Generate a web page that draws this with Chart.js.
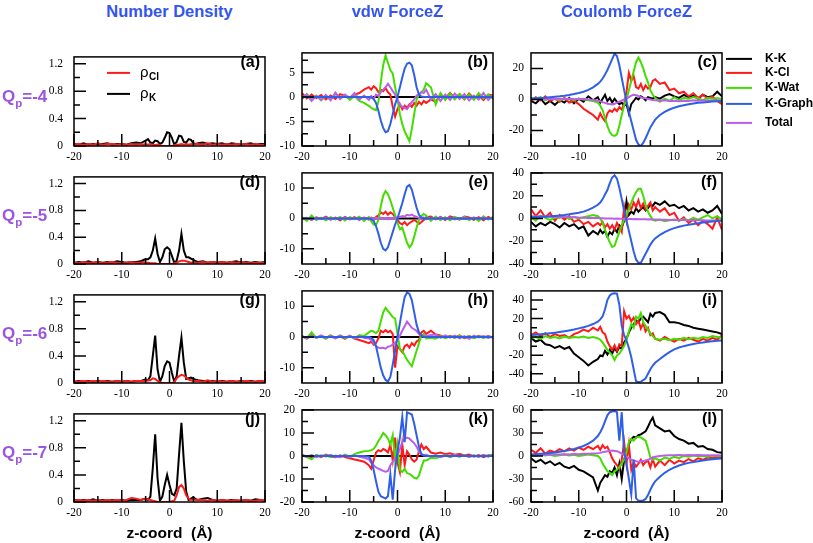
<!DOCTYPE html>
<html><head><meta charset="utf-8">
<script src="https://cdn.jsdelivr.net/npm/chart.js@4"></script>
<style>
body{margin:0;width:813px;height:543px;background:#fff;position:relative;overflow:hidden;font-family:'Liberation Sans',Arial,sans-serif;}
.abs{position:absolute;}
canvas{position:absolute;}
.title{font-weight:bold;font-size:16.5px;color:#3355ee;text-align:center;width:220px;line-height:20px;top:1px;white-space:nowrap}
.ql{font-weight:bold;font-size:17px;color:#9b55e0;left:2px;line-height:22px;white-space:nowrap}
.ql sub{font-size:11.5px;vertical-align:-5px;line-height:0}
.plab{font-weight:bold;font-size:16px;text-align:right;width:50px;line-height:18px;color:#000}
.xlab{font-weight:bold;font-size:15.5px;text-align:center;width:200px;line-height:18px;top:524px;white-space:pre}
</style></head>
<body>
<script>
// ---------------- DATA ----------------
const zCoord = [-20,-19,-18,-17,-16,-15,-14,-13,-12,-11,-10,-9,-8,-7,
 -6,-5.5,-5,-4.5,-4,-3.5,-3,-2.5,-2,-1.5,-1,-0.5,0,0.5,1,1.5,2,2.5,3,3.5,4,4.5,5,5.5,
 6,7,8,9,10,11,12,13,14,15,16,17,18,19,20];

const xMajorTicks = [-20,-10,0,10,20];
const xMinorTicks = [-15,-5,5,15];
const densTicks = [0,0.4,0.8,1.2], densMinor = [0.2,0.6,1.0];
const vdwTicksB = [-10,-5,0,5], vdwMinorB = [-7.5,-2.5,2.5,7.5];
const vdwTicksEH = [-10,0,10], vdwMinorEH = [-5,5];
const vdwTicksK = [-20,-10,0,10,20], vdwMinorK = [-15,-5,5,15];
const coulTicksC = [-20,0,20], coulMinorC = [-10,10];
const coulTicksFI = [-40,-20,0,20,40], coulMinorFI = [-30,-10,10,30];
const coulTicksL = [-60,-30,0,30,60], coulMinorL = [-45,-15,15,45];

const columnTitles = ['Number Density','vdw ForceZ','Coulomb ForceZ'];
const chargeLabels = ['-4','-5','-6','-7'];
const panelLetters = [['a','b','c'],['d','e','f'],['g','h','i'],['j','k','l']];
const densLabels = ['ρ_Cl','ρ_K'];
const forceLabels = ['K-K','K-Cl','K-Wat','K-Graph','Total'];
const xAxisTitle = 'z-coord  (Å)';

// Number density
const rhoK_a = [0.03,0.02,0.04,0.02,0.03,0.02,0.03,0.04,0.02,0.03,0.03,0.02,0.04,0.05,
 0.04,0.06,0.08,0.10,0.05,0.04,0.08,0.07,0.03,0.05,0.12,0.20,0.19,0.12,0.02,0.06,0.15,0.14,0.06,0.05,0.10,0.09,0.04,0.03,
 0.04,0.05,0.03,0.04,0.03,0.04,0.02,0.04,0.03,0.02,0.03,0.04,0.02,0.03,0.03];
const rhoCl_a = [0.02,0.03,0.02,0.03,0.02,0.04,0.02,0.03,0.03,0.02,0.03,0.02,0.03,0.02,
 0.03,0.02,0.03,0.02,0.03,0.02,0.01,0.02,0.01,0.00,0.00,0.00,0.00,0.00,0.01,0.02,0.02,0.03,0.02,0.03,0.02,0.03,0.02,0.03,
 0.03,0.02,0.04,0.02,0.03,0.02,0.03,0.02,0.03,0.02,0.03,0.02,0.03,0.02,0.02];
const rhoK_d = [0.02,0.03,0.02,0.04,0.02,0.03,0.02,0.03,0.02,0.04,0.03,0.02,0.03,0.03,
 0.04,0.06,0.07,0.07,0.10,0.20,0.38,0.15,0.03,0.10,0.22,0.25,0.22,0.12,0.02,0.05,0.20,0.45,0.20,0.10,0.10,0.08,0.06,0.04,
 0.03,0.04,0.02,0.03,0.02,0.03,0.02,0.03,0.04,0.02,0.03,0.02,0.03,0.02,0.03];
const rhoCl_d = [0.02,0.01,0.03,0.02,0.02,0.03,0.01,0.02,0.03,0.02,0.01,0.02,0.03,0.02,
 0.02,0.03,0.02,0.02,0.01,0.01,0.01,0.00,0.00,0.00,0.00,0.00,0.00,0.00,0.01,0.02,0.04,0.05,0.05,0.04,0.03,0.02,0.03,0.02,
 0.02,0.03,0.02,0.03,0.02,0.03,0.02,0.03,0.02,0.03,0.02,0.01,0.02,0.02,0.02];
const rhoK_g = [0.02,0.03,0.02,0.03,0.02,0.03,0.02,0.03,0.02,0.03,0.02,0.03,0.02,0.03,
 0.03,0.04,0.05,0.04,0.10,0.40,0.70,0.20,0.02,0.10,0.25,0.32,0.30,0.15,0.02,0.10,0.40,0.67,0.30,0.06,0.07,0.08,0.06,0.05,
 0.04,0.03,0.02,0.03,0.02,0.03,0.02,0.03,0.02,0.03,0.02,0.03,0.02,0.03,0.02];
const rhoCl_g = [0.02,0.02,0.03,0.02,0.03,0.02,0.03,0.02,0.02,0.03,0.02,0.03,0.02,0.03,
 0.03,0.03,0.03,0.04,0.04,0.07,0.06,0.03,0.01,0.00,0.00,0.00,0.00,0.00,0.01,0.07,0.10,0.12,0.11,0.08,0.05,0.04,0.03,0.03,
 0.03,0.02,0.04,0.02,0.03,0.02,0.02,0.03,0.02,0.02,0.03,0.02,0.02,0.03,0.02];
const rhoK_j = [0.03,0.02,0.03,0.02,0.04,0.02,0.03,0.02,0.03,0.02,0.03,0.02,0.03,0.03,
 0.03,0.04,0.04,0.03,0.08,0.50,1.00,0.35,0.02,0.08,0.25,0.40,0.25,0.12,0.10,0.20,0.70,1.17,0.60,0.15,0.03,0.05,0.07,0.04,
 0.03,0.05,0.06,0.03,0.02,0.03,0.02,0.03,0.02,0.02,0.03,0.02,0.04,0.03,0.02];
const rhoCl_j = [0.02,0.03,0.02,0.03,0.02,0.03,0.02,0.03,0.02,0.03,0.02,0.03,0.06,0.05,
 0.03,0.04,0.05,0.04,0.03,0.02,0.01,0.00,0.00,0.00,0.00,0.00,0.00,0.01,0.02,0.10,0.22,0.25,0.20,0.10,0.05,0.03,0.04,0.03,
 0.03,0.03,0.02,0.03,0.02,0.03,0.02,0.02,0.03,0.02,0.03,0.02,0.02,0.03,0.02];

// vdW force
const vdwKK = [0,0,0,0,0,0,0,0,0,0,0,0,0,0,
 0,0,0,0,0,0,0,0,0,0,0,0,0,0,0,0,0,0,0,0,0,0,0,0,
 0,0,0,0,0,0,0,0,0,0,0,0,0,0,0];
const vdwCl_b = [0.8,-0.3,0.5,-0.2,0.4,-0.5,0.3,-0.4,0.6,0.2,-0.3,0.5,0.8,1.5,
 2.0,1.5,2.2,1.8,1.0,1.5,1.2,1.8,1.0,0.5,-2.0,-4.0,-2.5,-1.5,-2.5,-1.8,-2.2,-1.5,-2.0,-1.2,-1.8,-1.0,-1.5,-0.8,
 -1.2,-0.5,-1.0,0.5,-0.3,0.8,-0.2,0.6,-0.5,0.7,-0.3,0.4,-0.6,0.5,0.3];
const vdwWat_b = [-0.5,0.6,-0.4,0.3,-0.7,0.2,-0.5,0.6,-0.3,0.4,-0.6,0.2,-0.8,-1.2,
 -1.8,-2.2,-2.5,-2.7,-1.0,3.0,6.5,8.5,7.0,5.5,4.8,2.0,-0.5,-3.5,-5.5,-7.0,-8.0,-9.0,-6.5,-3.5,-0.5,0.5,1.0,1.5,
 2.8,2.0,-1.5,0.8,-0.6,0.7,-0.5,0.6,-0.4,0.5,-0.6,0.8,-0.3,0.5,-0.4];
const vdwGraph_b = [0,0,0,0,0,0,0,0,0,0,0,0,0,0,
 0,-0.1,-0.4,-1.2,-2.8,-4.8,-6.3,-7.2,-7.0,-5.5,-3.5,-1.5,0,2.0,4.0,5.8,6.8,7.0,6.5,4.5,2.0,0.5,0.1,0,
 0,0,0,0,0,0,0,0,0,0,0,0,0,0,0];
const vdwTot_b = [-0.3,0.5,-0.8,0.2,-0.6,0.4,-0.7,0.9,-0.4,0.5,-0.2,0.8,-0.5,0.3,
 -0.6,0.2,-0.4,0.5,0.2,1.0,1.5,2.0,2.7,2.0,1.2,0.5,-0.5,-1.5,-2.0,-2.2,-2.5,-1.8,-1.0,-0.5,0.3,0.5,1.0,0.8,
 1.5,-0.5,0.6,-0.8,0.5,-0.6,0.7,-0.4,0.6,-0.7,0.3,-0.5,0.8,-0.6,0.4];

const vdwCl_e = [-0.3,0.2,-0.5,0.4,-0.2,0.6,-0.4,0.3,-0.6,0.5,-0.3,0.4,-0.5,0.3,
 -0.4,0.3,-0.5,0.5,1.0,2.0,1.5,2.2,1.2,2.0,1.5,0.5,-0.5,-1.5,-2.0,-1.2,-2.2,-1.5,-1.0,-0.5,-1.0,-1.8,-1.2,-0.5,
 0.4,0.6,-0.3,0.5,-0.5,0.7,0.2,-0.4,0.6,0.3,-0.5,0.4,-0.6,0.5,-0.3];
const vdwWat_e = [0.5,-0.8,1.0,-0.5,0.3,-0.6,0.4,-0.3,0.5,-0.7,0.4,-0.2,0.6,-0.8,
 0.5,-1.0,-2.0,-2.2,-0.5,4.0,7.5,9.0,8.0,6.0,3.5,1.0,-1.5,-3.5,-3.0,-5.5,-8.0,-9.5,-8.5,-6.0,-3.0,-0.5,0.8,1.5,
 1.0,-0.8,0.6,-0.5,0.4,-0.6,0.5,-0.3,0.6,-0.5,0.3,-0.8,0.7,-0.4,0.5];
const vdwGraph_e = [0,0,0,0,0,0,0,0,0,0,0,0,0,0,
 0,-0.2,-0.8,-2.5,-5.0,-8.0,-10.0,-10.5,-9.5,-7.0,-4.5,-2.0,0,2.5,5.0,8.0,10.5,11.0,9.5,6.5,3.5,1.2,0.3,0,
 0,0,0,0,0,0,0,0,0,0,0,0,0,0,0];
const vdwTot_e = [-0.3,0.2,-0.4,0.1,-0.2,0.3,-0.3,0.2,-0.1,0.3,-0.2,0.1,-0.3,0.2,
 -0.2,0.1,-0.3,0.2,-0.1,0.3,-0.2,0.2,-0.3,0.1,-0.2,0.3,0.2,0.5,0.8,0.6,1.2,1.0,1.3,0.8,0.5,0.2,-0.2,0.3,
 -0.3,0.2,-0.2,0.3,-0.1,0.2,-0.3,0.1,0.2,-0.2,0.3,-0.1,0.2,-0.2,0.1];

const vdwCl_h = [0.3,-0.5,0.6,-0.2,0.4,-0.3,0.5,-0.4,0.2,-0.6,0.4,-0.5,-1.0,-1.5,
 -2.0,-1.5,-2.5,-2.0,-0.5,2.0,1.5,2.2,1.5,2.0,1.0,-10.0,-3.0,-4.0,-5.0,-3.0,-2.5,-3.5,-2.0,-2.8,-1.5,-1.0,1.5,2.0,
 1.0,2.0,0.8,0.5,-0.3,0.4,-0.2,0.5,-0.4,0.3,-0.3,0.4,-0.2,0.3,-0.2];
const vdwWat_h = [0.3,-0.5,1.5,-0.3,0.2,-0.6,0.4,-0.2,0.5,-0.4,0.3,-0.5,0.6,0.3,
 1.5,2.0,1.8,1.2,2.0,5.0,8.0,9.5,8.5,7.5,6.5,6.0,1.0,-4.0,-4.5,-6.0,-7.5,-8.5,-9.5,-7.0,-4.5,-2.0,0.5,1.0,
 -0.5,-0.3,-0.6,0.3,-0.4,0.2,-0.3,0.4,-0.2,0.3,-0.4,0.2,-0.3,0.1,-0.2];
const vdwGraph_h = [0,0,0,0,0,0,0,0,0,0,0,0,0,0,
 0,-0.3,-1.0,-3.0,-6.5,-10.0,-12.5,-14.0,-14.5,-13.0,-9.0,-4.5,0,4.5,9.0,13.0,14.5,14.0,12.0,8.0,4.0,1.5,0.3,0,
 0,0,0,0,0,0,0,0,0,0,0,0,0,0,0];
const vdwTot_h = [0.2,-0.4,0.3,-0.2,0.5,-0.3,0.2,-0.5,0.4,-0.2,0.3,-0.4,0.2,-0.3,
 -0.5,-1.0,-2.0,-3.0,-3.5,-3.6,-3.5,-3.8,-3.2,-3.0,-2.5,-2.0,-1.0,0.5,2.0,3.5,5.0,4.0,3.0,2.5,2.0,1.0,0.5,0.3,
 0.2,0.6,0.8,-0.3,0.5,-0.2,0.4,-0.5,0.3,-0.6,0.4,-0.2,0.3,-0.3,0.2];

const vdwCl_k = [0.5,-0.3,-0.8,0.4,-0.5,0.6,-0.2,-0.6,0.3,-0.5,-1.0,-1.5,-2.0,-2.5,
 -4.0,-5.5,-2.0,1.5,2.5,2.0,3.0,2.5,1.5,5.0,-2.0,8.0,-3.0,-7.0,5.0,-4.0,2.0,0.5,-1.5,-2.5,-1.5,2.0,5.0,3.0,
 4.0,1.5,1.0,1.5,0.8,1.2,0.5,0.8,0.3,0.6,-0.3,0.4,-0.5,0.3,0.2];
const vdwWat_k = [0.3,-0.5,-1.5,0.4,-0.2,0.3,-0.5,0.2,-0.4,0.6,-0.3,0.8,1.5,2.0,
 2.2,2.5,3.0,4.5,6.5,8.0,10.0,9.0,7.5,5.0,9.0,-2.0,5.0,-6.0,-7.0,-5.5,-7.5,-7.8,-8.5,-9.5,-9.8,-8.5,-5.0,-2.0,
 -2.0,-0.8,-1.0,-0.4,0.3,-0.5,0.2,-0.3,0.4,-0.2,0.3,-0.4,0.5,-0.3,0.8];
const vdwGraph_k = [0,0,0,0,0,0,0,0,0,0,0,0,0,0,
 -0.3,-2.0,-6.0,-11.0,-15.5,-17.5,-18.0,-18.5,-17.5,-8.0,-19.0,-6.0,2.0,8.0,17.0,6.0,19.0,18.5,18.0,14.0,9.0,4.0,0.8,0.2,
 0,0,0,0,0,0,0,0,0,0,0,0,0,0,0];
const vdwTot_k = [0.2,-0.3,0.4,-0.5,0.3,-0.2,0.5,-0.4,-0.6,0.3,-0.5,0.2,-0.4,-0.8,
 -1.5,-3.0,-4.0,-5.0,-5.5,-6.0,-6.5,-6.8,-6.5,-4.0,-2.5,-1.0,0.5,3.0,6.0,7.5,8.0,7.5,6.5,5.5,4.0,2.0,0.8,0.3,
 0.5,-0.3,0.4,-0.5,0.2,-0.3,0.5,-0.2,0.3,-0.4,0.2,-0.3,0.4,-0.2,0.3];

// Coulomb force
const coulKK_c = [-1.0,-2.5,0.5,-3.0,-1.0,-3.5,-0.5,-2.0,1.0,-2.5,0.5,-1.5,2.0,-0.5,
 1.5,-2.0,0.5,3.0,-1.0,1.0,-2.0,0.5,-1.5,-3.0,-2.0,-4.0,-3.0,-9.0,-3.0,-1.0,1.0,0.0,2.0,1.0,-0.5,1.5,1.0,0.5,
 1.5,0.5,2.5,3.5,2.0,1.0,3.0,1.5,2.5,0.5,3.0,1.5,2.0,5.0,2.0];
const coulCl_c = [-1.0,1.5,-0.5,2.0,-1.0,0.5,-1.5,1.0,-2.0,-1.0,-3.0,-6.0,-8.0,-10.0,
 -13.0,-9.0,-12.0,-14.0,-9.0,-7.0,-8.0,-6.0,-7.5,-5.0,-6.5,-3.0,5.0,17.0,12.0,15.0,8.0,7.0,10.0,6.0,9.0,7.0,8.0,12.0,
 13.0,10.0,11.0,6.0,7.0,4.0,5.0,2.0,4.0,1.0,3.0,0.5,2.0,-1.0,-3.0];
const coulWat_c = [1.0,0.5,1.5,-0.5,0.8,0.3,-0.5,0.5,0.2,-0.3,0.5,0.0,-0.5,-1.0,
 -2.0,-4.0,-7.0,-12.0,-17.0,-21.0,-23.0,-23.5,-22.5,-17.0,-10.0,-4.0,0.0,6.0,12.0,18.0,24.0,27.0,24.0,20.0,15.0,11.0,6.0,3.0,
 1.0,-1.5,0.5,-1.0,1.5,-0.5,1.0,0.5,1.5,0.8,-0.5,1.0,0.5,0.8,0.5];
const coulGraph_c = [0.5,0.7,0.9,1.1,1.4,1.7,2.0,2.4,2.9,3.5,4.2,5.0,6.2,7.8,
 10.0,11.5,13.5,16.0,19.0,22.5,26.0,29.5,28.0,22.0,14.0,6.0,-1.0,-8.0,-14.0,-20.0,-26.0,-29.0,-30.0,-28.0,-25.0,-21.5,-18.0,-15.5,
 -13.0,-10.0,-8.0,-6.5,-5.3,-4.4,-3.7,-3.1,-2.6,-2.2,-1.9,-1.6,-1.4,-1.2,-1.0];
const coulTot_c = [0.5,0.3,0.8,0.2,0.5,0.3,0.4,0.2,0.5,0.3,0.2,0.4,0.0,-0.3,
 -0.8,-1.2,-1.8,-2.2,-2.8,-3.0,-3.2,-2.8,-2.0,-1.5,-0.8,0.0,0.5,1.5,2.5,3.0,2.8,2.2,1.5,1.0,0.8,0.3,0.0,-0.3,
 -0.5,-0.8,-0.5,-1.0,-0.8,-1.2,-0.8,-1.0,-0.6,-0.9,-0.5,-0.8,-0.6,-0.7,-0.5];

const coulKK_f = [-3.0,-7.0,-4.0,-6.0,-3.0,-5.0,-8.0,-4.0,-7.0,-5.0,-9.0,-7.0,-15.0,-11.0,
 -14.0,-10.0,-13.0,-11.0,-16.0,-12.0,-14.0,-9.0,-12.0,-6.0,-8.0,-2.0,15.0,3.0,6.0,4.0,9.0,6.0,8.0,10.0,7.0,9.0,12.0,11.0,
 14.0,12.0,15.0,11.0,12.0,9.0,11.0,7.0,9.0,6.0,8.0,5.0,7.0,11.0,4.0];
const coulCl_f = [8.0,2.0,7.0,1.0,5.0,-2.0,3.0,-1.0,2.0,-3.0,-1.0,-5.0,-3.0,-7.0,
 -4.0,-6.0,-3.0,-8.0,-5.0,-9.0,-6.0,-10.0,-4.0,-8.0,-12.0,10.0,-2.0,12.0,8.0,14.0,10.0,16.0,9.0,13.0,8.0,11.0,14.0,7.0,
 10.0,6.0,9.0,3.0,5.0,-2.0,1.0,-4.0,-1.0,-6.0,-2.0,-5.0,-9.0,1.0,-10.0];
const coulWat_f = [1.0,-2.0,2.5,0.5,-1.5,1.0,0.5,2.0,-0.5,1.5,0.0,1.0,2.0,3.0,
 2.0,0.0,-4.0,-10.0,-16.0,-21.0,-25.0,-24.0,-18.0,-12.0,-6.0,-1.0,3.0,8.0,14.0,19.0,23.0,26.0,26.0,20.0,12.0,6.0,2.0,-1.0,
 -2.0,-1.0,-2.5,-1.5,-1.0,-2.0,-0.5,-1.5,0.5,-1.0,1.0,3.0,0.0,2.0,-1.0];
const coulGraph_f = [1.0,1.2,1.4,1.6,1.9,2.2,2.5,3.0,3.6,4.3,5.0,6.0,7.5,9.5,
 12.0,14.0,17.0,21.0,25.0,31.0,36.0,38.0,35.0,27.0,17.0,7.0,-2.0,-11.0,-20.0,-29.0,-36.0,-39.0,-39.0,-35.0,-31.0,-27.0,-23.0,-20.0,
 -17.5,-14.5,-12.0,-10.0,-8.5,-7.3,-6.3,-5.5,-4.8,-4.2,-3.6,-3.1,-2.6,-2.2,-1.8];
const coulTot_f = [2.0,1.8,1.9,1.7,1.6,1.5,1.4,1.2,1.1,1.0,0.8,0.7,0.5,0.4,
 0.3,0.2,0.1,0.0,0.0,-0.1,0.0,-0.2,-0.1,-0.3,-0.2,-0.4,-0.3,-0.5,-0.4,-0.6,-0.5,-0.7,-0.6,-0.8,-0.7,-0.9,-0.8,-1.0,
 -1.0,-1.1,-1.2,-1.3,-1.3,-1.4,-1.4,-1.5,-1.5,-1.6,-1.6,-1.7,-1.7,-1.8,-1.8];

const coulKK_i = [-1.0,-5.0,-3.0,-8.0,-9.0,-12.0,-10.0,-13.0,-11.0,-18.0,-22.0,-26.0,-31.0,-27.0,
 -24.0,-20.0,-21.0,-15.0,-19.0,-14.0,-18.0,-12.0,-16.0,-11.0,-13.0,-6.0,-2.0,5.0,10.0,14.0,18.0,16.0,20.0,22.0,19.0,16.0,25.0,22.0,
 26.0,27.0,24.0,16.0,16.0,15.0,13.0,12.0,10.0,9.0,8.0,7.0,6.0,5.0,3.0];
const coulCl_i = [2.0,5.0,1.0,4.0,0.0,3.0,1.0,2.0,-1.0,3.0,5.0,8.0,6.0,10.0,
 7.0,11.0,5.0,3.0,-5.0,-10.0,-14.0,-9.0,-15.0,-8.0,-10.0,28.0,20.0,23.0,17.0,21.0,14.0,18.0,9.0,15.0,6.0,10.0,2.0,4.0,
 -2.0,-4.0,0.0,-3.0,-5.0,-2.0,-4.0,-1.0,-3.0,-5.0,-2.0,-4.0,-1.0,-3.0,2.0];
const coulWat_i = [-1.0,0.0,-2.0,1.0,-1.0,0.0,-1.5,0.5,-1.0,0.0,-0.5,0.5,-1.0,0.0,
 -1.5,-3.0,-6.0,-10.0,-14.0,-17.0,-20.0,-25.0,-20.0,-18.0,-14.0,-10.0,-3.0,6.0,14.0,10.0,22.0,20.0,26.0,16.0,12.0,8.0,4.0,1.0,
 -2.0,-3.0,-2.0,-3.5,-2.0,-3.0,-1.0,-2.5,-1.0,-2.0,0.0,-1.0,1.0,0.0,-1.0];
const coulGraph_i = [2.0,2.5,3.0,3.5,4.0,4.6,5.3,6.1,7.0,8.0,9.3,10.5,12.0,14.0,
 16.5,19.0,22.5,30.0,40.0,45.0,47.0,47.5,47.0,35.0,12.0,2.0,-4.0,-12.0,-22.0,-35.0,-48.0,-49.0,-48.5,-47.0,-45.0,-40.0,-35.0,-31.0,
 -28.0,-24.0,-20.0,-16.5,-13.5,-11.5,-10.0,-8.7,-7.6,-6.7,-6.0,-5.3,-4.7,-4.2,-3.8];

const coulKK_l = [-3.0,-8.0,-5.0,-10.0,-7.0,-12.0,-9.0,-14.0,-16.0,-13.0,-18.0,-20.0,-24.0,-28.0,
 -45.0,-35.0,-30.0,-25.0,-27.0,-20.0,-22.0,-15.0,-25.0,-10.0,-30.0,-5.0,5.0,15.0,22.0,25.0,24.0,27.0,28.0,30.0,32.0,38.0,45.0,50.0,
 40.0,36.0,32.0,33.0,26.0,22.0,20.0,16.0,17.0,12.0,13.0,9.0,8.0,5.0,4.0];
const coulCl_l = [8.0,4.0,10.0,3.0,7.0,5.0,9.0,6.0,10.0,7.0,11.0,8.0,12.0,9.0,
 13.0,8.0,14.0,10.0,12.0,5.0,-3.0,-8.0,-12.0,-16.0,-5.0,18.0,-10.0,15.0,-18.0,-8.0,-14.0,-10.0,-5.0,-12.0,-8.0,-6.0,-15.0,-4.0,
 -14.0,-6.0,-12.0,-5.0,-10.0,-6.0,-8.0,-4.0,-7.0,-3.0,-5.0,-2.0,-3.0,-1.0,-2.0];
const coulWat_l = [1.0,0.0,2.0,0.5,1.5,0.0,1.0,2.0,0.5,1.5,0.0,1.0,2.0,1.0,
 0.0,-3.0,-10.0,-15.0,-20.0,-22.0,-25.0,-20.0,-18.0,-15.0,-10.0,-5.0,5.0,18.0,22.0,20.0,24.0,25.0,24.0,22.0,20.0,10.0,-2.0,-5.0,
 -3.0,-6.0,-2.0,-4.0,-1.0,-3.0,0.0,-1.0,0.5,-0.5,0.0,-1.0,0.5,0.0,-0.5];
const coulGraph_l = [2.0,2.4,2.8,3.3,3.9,4.6,5.4,6.4,7.6,9.0,10.8,13.0,16.0,20.0,
 26.0,31.0,37.0,45.0,53.0,57.0,58.0,58.5,57.0,20.0,57.0,5.0,-10.0,-30.0,-50.0,-5.0,-55.0,-58.5,-58.5,-58.0,-56.0,-51.0,-44.0,-38.0,
 -33.0,-27.0,-22.0,-18.0,-15.0,-12.5,-10.5,-9.0,-7.8,-6.8,-5.9,-5.1,-4.4,-3.8,-3.3];
const coulTot_l = [1.0,1.5,1.2,1.8,1.5,2.0,1.8,2.2,2.0,2.5,2.3,2.8,3.0,3.2,
 3.5,4.0,5.0,5.5,6.0,6.5,7.0,6.5,6.0,5.0,3.0,1.0,-1.0,-3.0,-5.0,-6.0,-7.0,-7.5,-7.0,-6.5,-6.0,-5.0,-3.5,-2.0,
 -1.0,0.0,0.5,1.0,0.8,1.2,1.0,1.3,1.0,1.2,0.8,1.0,0.7,0.8,0.5];

// ---------------- STYLE / LAYOUT ----------------
const COL = {kk:'#000000', kcl:'#ff1a1a', kwat:'#44dd00', kgraph:'#2f5fe6', total:'#bb5ee8'};
const colLeft = [74, 302, 531];
const rowTop = [47, 167, 285, 404];
const rowH = [99, 97, 98, 98];
const boxW = 191;
const AXW = 44, AXH = 22, PADT = 8;

const frameTicks = {
  id: 'frameTicks',
  afterDatasetsDraw(chart, args, o) {
    const {ctx, chartArea: {left, top, right, bottom}, scales: {x, y}} = chart;
    ctx.save();
    ctx.strokeStyle = '#000'; ctx.lineWidth = 1.5; ctx.lineCap = 'butt';
    ctx.beginPath();
    const vt = (v, len) => { const p = x.getPixelForValue(v); ctx.moveTo(p, bottom); ctx.lineTo(p, bottom - len); };
    const ht = (v, len) => { const p = y.getPixelForValue(v); ctx.moveTo(left, p); ctx.lineTo(left + len, p); };
    o.xMajor.forEach(v => vt(v, 12)); o.xMinor.forEach(v => vt(v, 6));
    o.yMajor.forEach(v => ht(v, 12)); o.yMinor.forEach(v => ht(v, 6));
    ctx.stroke();
    ctx.strokeRect(left, top, right - left, bottom - top);
    ctx.restore();
  }
};

const seriesKey = {
  id: 'seriesKey',
  afterDraw(chart, args, o) {
    if (!o.show) return;
    const {ctx, chartArea: {left, top}} = chart;
    ctx.save();
    chart.data.datasets.forEach((ds, i) => {
      const yy = top + o.ys[i];
      ctx.strokeStyle = ds.borderColor; ctx.lineWidth = 2;
      ctx.beginPath(); ctx.moveTo(left + o.x0, yy); ctx.lineTo(left + o.x1, yy); ctx.stroke();
      ctx.fillStyle = '#000'; ctx.textBaseline = 'middle'; ctx.textAlign = 'left';
      const parts = ds.label.split('_');
      ctx.font = o.font;
      ctx.fillText(parts[0], left + o.tx, yy);
      if (parts[1]) {
        const w = ctx.measureText(parts[0]).width;
        ctx.font = o.subFont;
        ctx.fillText(parts[1], left + o.tx + w + 0.5, yy + 4);
      }
    });
    ctx.restore();
  }
};

function pts(arr) { return zCoord.map((x, i) => ({x: x, y: arr[i]})); }

const problems = [];
function mk(label, values, color, order) {
  if (values.length !== zCoord.length) problems.push(label + ':' + values.length);
  return {label, values, color, order};
}

function forceSeries(kk, cl, wat, graph, tot) {
  const list = [mk(forceLabels[0], kk, COL.kk, 4), mk(forceLabels[1], cl, COL.kcl, 3),
          mk(forceLabels[2], wat, COL.kwat, 2), mk(forceLabels[3], graph, COL.kgraph, 0)];
  if (tot) list.push(mk(forceLabels[4], tot, COL.total, 1));
  return list;
}
function densSeries(cl, k) {
  return [mk(densLabels[0], cl, COL.kcl, 0), mk(densLabels[1], k, COL.kk, 1)];
}

const panels = [
  {r:0,c:0, min:0, max:1.3, yT:densTicks, yM:densMinor, s:densSeries(rhoCl_a, rhoK_a),
   key:{show:true, x0:33, x1:56, tx:66, ys:[16,37], font:'15px "Liberation Sans"', subFont:'bold 10px "Liberation Sans"'}},
  {r:0,c:1, min:-10, max:9, yT:vdwTicksB, yM:vdwMinorB, s:forceSeries(vdwKK, vdwCl_b, vdwWat_b, vdwGraph_b, vdwTot_b)},
  {r:0,c:2, min:-30, max:30, yT:coulTicksC, yM:coulMinorC, s:forceSeries(coulKK_c, coulCl_c, coulWat_c, coulGraph_c, coulTot_c),
   key:{show:true, x0:195, x1:221, tx:234, ys:[6,20,35,51,70], font:'bold 12px "Liberation Sans"', subFont:'bold 9px "Liberation Sans"'}, extraR:90},
  {r:1,c:0, min:0, max:1.3, yT:densTicks, yM:densMinor, s:densSeries(rhoCl_d, rhoK_d)},
  {r:1,c:1, min:-15, max:15, yT:vdwTicksEH, yM:vdwMinorEH, s:forceSeries(vdwKK, vdwCl_e, vdwWat_e, vdwGraph_e, vdwTot_e)},
  {r:1,c:2, min:-40, max:40, yT:coulTicksFI, yM:coulMinorFI, s:forceSeries(coulKK_f, coulCl_f, coulWat_f, coulGraph_f, coulTot_f)},
  {r:2,c:0, min:0, max:1.3, yT:densTicks, yM:densMinor, s:densSeries(rhoCl_g, rhoK_g)},
  {r:2,c:1, min:-15, max:15, yT:vdwTicksEH, yM:vdwMinorEH, s:forceSeries(vdwKK, vdwCl_h, vdwWat_h, vdwGraph_h, vdwTot_h)},
  {r:2,c:2, min:-50, max:50, yT:coulTicksFI, yM:coulMinorFI, s:forceSeries(coulKK_i, coulCl_i, coulWat_i, coulGraph_i, null)},
  {r:3,c:0, min:0, max:1.3, yT:densTicks, yM:densMinor, s:densSeries(rhoCl_j, rhoK_j)},
  {r:3,c:1, min:-20, max:20, yT:vdwTicksK, yM:vdwMinorK, s:forceSeries(vdwKK, vdwCl_k, vdwWat_k, vdwGraph_k, vdwTot_k)},
  {r:3,c:2, min:-60, max:60, yT:coulTicksL, yM:coulMinorL, s:forceSeries(coulKK_l, coulCl_l, coulWat_l, coulGraph_l, coulTot_l)},
];

const tickFont = {family: '"Liberation Serif", "Times New Roman", serif', size: 11.5};

panels.forEach(p => {
  const L = colLeft[p.c], T = rowTop[p.r], H = rowH[p.r];
  const padR = 10 + (p.extraR || 0);
  const cv = document.createElement('canvas');
  const w = AXW + boxW + padR, h = PADT + H + AXH;
  cv.width = w; cv.height = h;
  cv.style.left = (L - AXW) + 'px'; cv.style.top = (T - PADT) + 'px';
  cv.style.width = w + 'px'; cv.style.height = h + 'px';
  document.body.appendChild(cv);
  new Chart(cv, {
    type: 'line',
    data: {datasets: p.s.map(s => ({label: s.label, data: pts(s.values), borderColor: s.color, backgroundColor: s.color,
      borderWidth: 2, pointRadius: 0, tension: 0, fill: false, order: s.order}))},
    options: {
      responsive: false, animation: false, events: [], devicePixelRatio: 1,
      layout: {padding: {top: PADT, right: padR, left: 0, bottom: 0}},
      plugins: {legend: {display: false}, tooltip: {enabled: false},
        frameTicks: {xMajor: xMajorTicks, xMinor: xMinorTicks, yMajor: p.yT, yMinor: p.yM},
        seriesKey: p.key || {show: false}},
      scales: {
        x: {type: 'linear', min: -20, max: 20,
          grid: {display: false, drawTicks: false}, border: {display: false},
          afterBuildTicks: s => { s.ticks = xMajorTicks.map(v => ({value: v})); },
          afterFit: s => { s.height = AXH; },
          ticks: {font: tickFont, color: '#000', padding: 4, maxRotation: 0, autoSkip: false, callback: v => String(v)}},
        y: {type: 'linear', min: p.min, max: p.max,
          grid: {display: false, drawTicks: false}, border: {display: false},
          afterBuildTicks: s => { s.ticks = p.yT.map(v => ({value: v})); },
          afterFit: s => { s.width = AXW; },
          ticks: {font: tickFont, color: '#000', padding: p.c === 0 ? 11 : 7, autoSkip: false, callback: v => String(v)}}
      }
    },
    plugins: [frameTicks, seriesKey]
  });
  const lab = document.createElement('div');
  lab.className = 'abs plab';
  lab.textContent = '(' + panelLetters[p.r][p.c] + ')';
  lab.style.left = (L + boxW - 5 - 50) + 'px';
  lab.style.top = (T + 6) + 'px';
  document.body.appendChild(lab);
});

columnTitles.forEach((t, c) => {
  const d = document.createElement('div');
  d.className = 'abs title'; d.textContent = t;
  d.style.left = (colLeft[c] + boxW / 2 - 110) + 'px';
  document.body.appendChild(d);
  const xl = document.createElement('div');
  xl.className = 'abs xlab'; xl.textContent = xAxisTitle;
  xl.style.left = (colLeft[c] + boxW / 2 - 100) + 'px';
  document.body.appendChild(xl);
});

chargeLabels.forEach((q, r) => {
  const d = document.createElement('div');
  d.className = 'abs ql';
  d.innerHTML = 'Q<sub>p</sub>=' + q;
  d.style.top = (rowTop[r] + rowH[r] / 2 - 11) + 'px';
  document.body.appendChild(d);
});

if (problems.length) throw new Error('length mismatch ' + problems.join(','));
</script>
</body></html>
